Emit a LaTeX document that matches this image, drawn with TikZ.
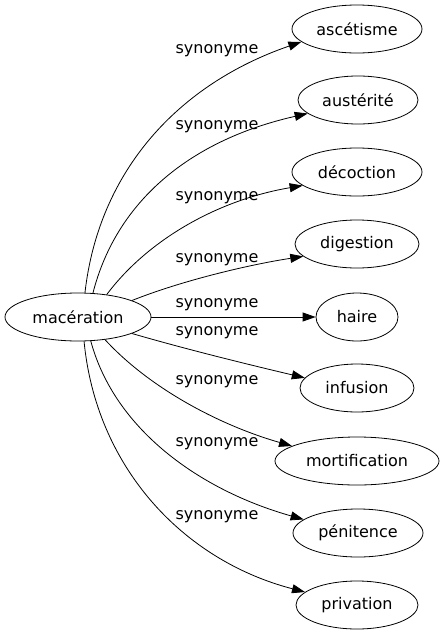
\documentclass[tikz,border=0pt]{standalone}
\usepackage{fontspec}
\setmainfont{DejaVu Sans}
\usetikzlibrary{arrows.meta,shapes.geometric}
\begin{document}
\begin{tikzpicture}[x=1pt,y=-1pt,
  word/.style={ellipse,draw,line width=0.8pt,inner sep=0pt,minimum height=48pt,font=\fontsize{16}{18}\selectfont},
  rel/.style={line width=0.8pt,-{Triangle[length=13pt,width=9pt]}},
  lab/.style={font=\fontsize{16}{18}\selectfont,inner sep=0pt}]
\useasboundingbox (0,0) rectangle (445,635);
\node[word,minimum width=146pt] (m) at (78,317) {macération};
\node[word,minimum width=130pt] (a) at (357,29) {ascétisme};
\node[word,minimum width=120pt] (b) at (358,100) {austérité};
\node[word,minimum width=130pt] (c) at (357,172) {décoction};
\node[word,minimum width=124pt] (d) at (357,244) {digestion};
\node[word,minimum width=82pt] (e) at (357,317) {haire};
\node[word,minimum width=114pt] (f) at (357,388) {infusion};
\node[word,minimum width=164pt] (g) at (357,461) {mortification};
\node[word,minimum width=130pt] (h) at (358,533) {pénitence};
\node[word,minimum width=122pt] (i) at (357,605) {privation};
\draw[rel] (m.74) .. controls +(14,-123) and +(-122,42) .. (a.193);
\draw[rel] (m.58) .. controls +(24,-94) and +(-115,26) .. (b.195);
\draw[rel] (m.38) .. controls +(42,-56) and +(-83,14) .. (c.194);
\draw[rel] (m.17) .. controls +(50,-20) and +(-53,8) .. (d.193);
\draw[rel] (m.east) -- (e.west);
\draw[rel] (m.-17) .. controls +(55,16) and +(-55,-13) .. (f.169);
\draw[rel] (m.-40) .. controls +(46,50) and +(-70,-20) .. (g.167);
\draw[rel] (m.-62) .. controls +(24,89) and +(-103,-29) .. (h.166);
\draw[rel] (m.-76) .. controls +(12,125) and +(-123,-32) .. (i.166);
\node[lab] (la) at (217,51) {synonyme};
\node[lab] (lb) at (217,127) {synonyme};
\node[lab] (lc) at (217,198) {synonyme};
\node[lab] (ld) at (217,260) {synonyme};
\node[lab] (le) at (217,305) {synonyme};
\node[lab] (lf) at (217,333) {synonyme};
\node[lab] (lg) at (217,382) {synonyme};
\node[lab] (lh) at (217,444) {synonyme};
\node[lab] (li) at (217,517) {synonyme};
\end{tikzpicture}
\end{document}
